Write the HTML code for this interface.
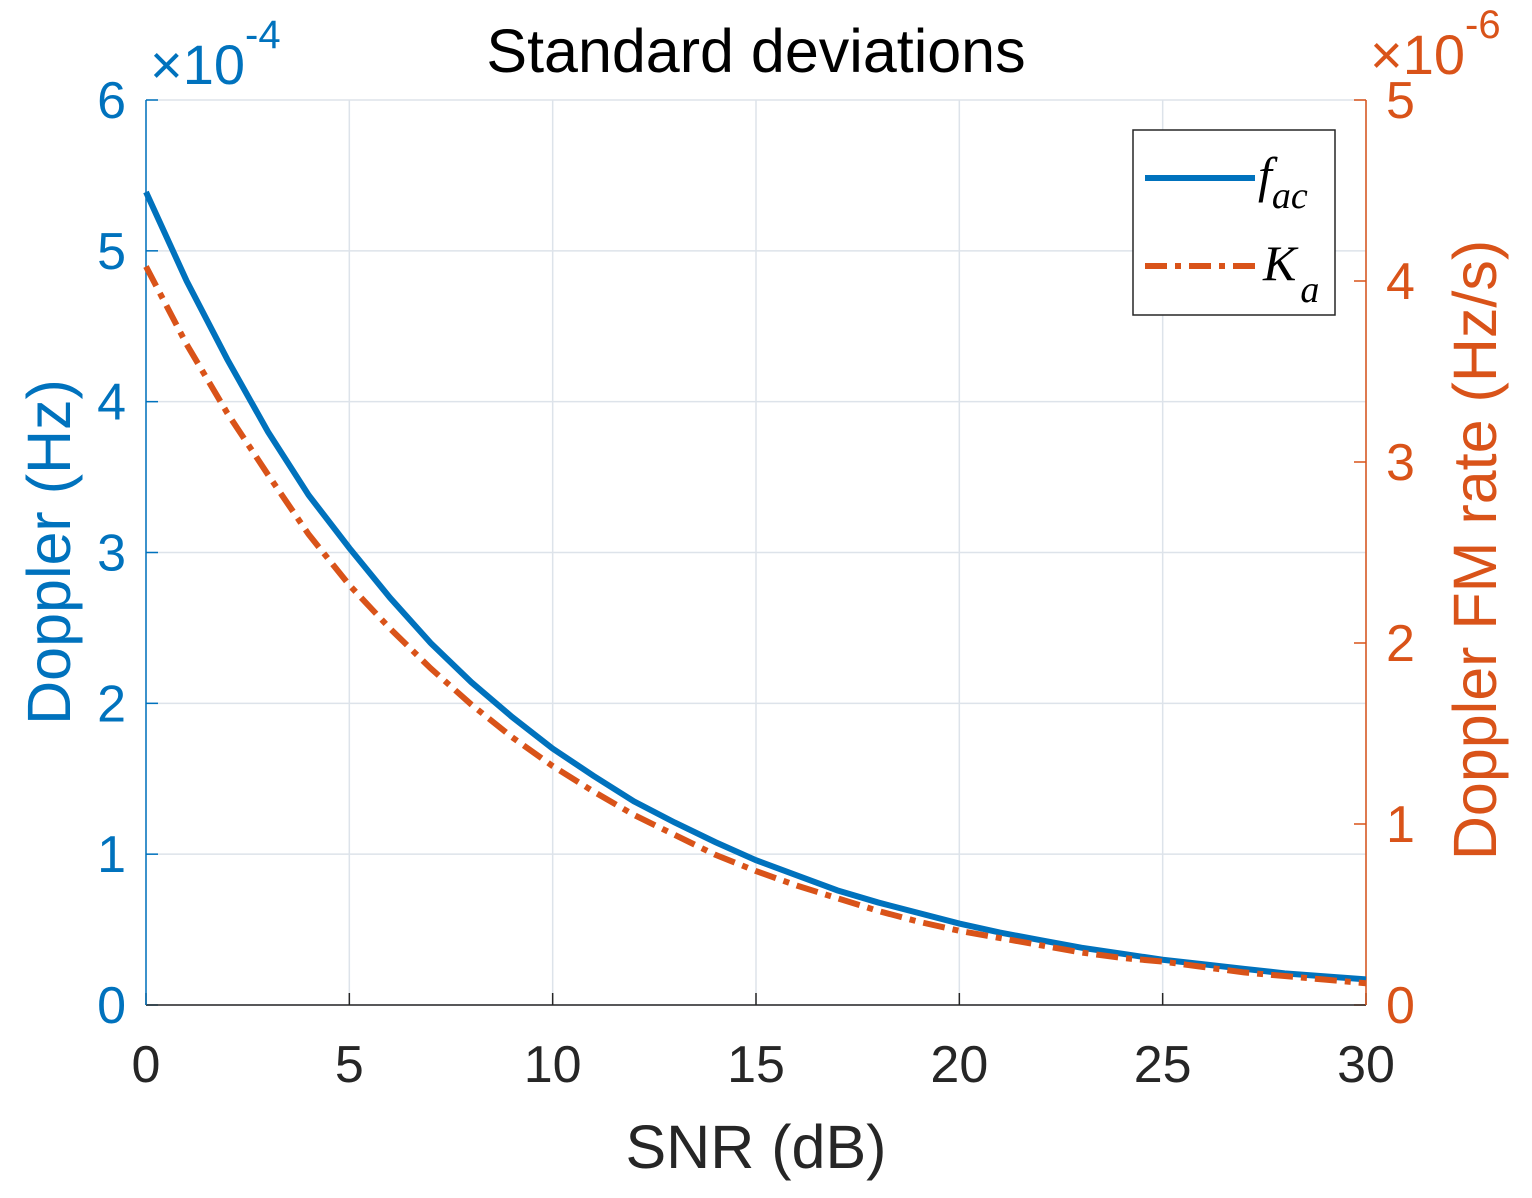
<!DOCTYPE html>
<html><head><meta charset="utf-8"><style>
body{margin:0;background:#fff;}
svg{display:block;font-family:"Liberation Sans",Arial,sans-serif;}
</style></head><body>
<svg id="chart" width="1532" height="1198" viewBox="0 0 1532 1198" xmlns="http://www.w3.org/2000/svg">
<rect width="1532" height="1198" fill="#fff"/>
<g id="grid"></g>
<g id="axes"></g>
<g id="series"></g>
<text x="756" y="72" font-size="61" text-anchor="middle" fill="#000">Standard deviations</text>
<text x="756" y="1168" font-size="61" text-anchor="middle" fill="#262626">SNR (dB)</text>
<text transform="translate(70,552) rotate(-90)" font-size="61" text-anchor="middle" fill="#0072BD">Doppler (Hz)</text>
<text transform="translate(1496,550) rotate(-90)" font-size="61" text-anchor="middle" fill="#D95319">Doppler FM rate (Hz/s)</text>
<text x="150" y="84" font-size="56" fill="#0072BD">×10<tspan dy="-36" font-size="40">-4</tspan></text>
<text x="1370" y="74" font-size="56" fill="#D95319">×10<tspan dy="-36" font-size="40">-6</tspan></text>
<g>
<rect x="1133" y="130" width="202" height="185" fill="#fff" stroke="#262626" stroke-width="1.5"/>
<line x1="1145" y1="178" x2="1255" y2="178" stroke="#0072BD" stroke-width="6"/>
<text x="1258" y="192" font-family="Liberation Serif,serif" font-style="italic" font-size="50">f<tspan dy="16" font-size="38">ac</tspan></text>
<line x1="1145" y1="266" x2="1255" y2="266" stroke="#D95319" stroke-width="6" stroke-dasharray="22,8,6,8"/>
<text x="1263" y="280" font-family="Liberation Serif,serif" font-style="italic" font-size="50">K<tspan dy="22" dx="4" font-size="38">a</tspan></text>
</g>
</svg>
<script>
const snr=[0,1,2,3,4,5,6,7,8,9,10,11,12,13,14,15,16,17,18,19,20,21,22,23,24,25,26,27,28,29,30];
const facStd=[5.39,4.8,4.28,3.8,3.38,3.03,2.7,2.4,2.14,1.91,1.70,1.52,1.35,1.21,1.08,0.96,0.86,0.76,0.68,0.61,0.54,0.48,0.43,0.38,0.34,0.30,0.27,0.24,0.21,0.19,0.17];
const kaStd=[4.08,3.65,3.27,2.93,2.6,2.32,2.08,1.86,1.66,1.48,1.32,1.18,1.05,0.94,0.83,0.74,0.66,0.59,0.52,0.46,0.41,0.37,0.33,0.29,0.26,0.24,0.21,0.18,0.16,0.14,0.12];
const xTicks=[0,5,10,15,20,25,30];
const leftTicks=[0,1,2,3,4,5,6];
const rightTicks=[0,1,2,3,4,5];
const NS="http://www.w3.org/2000/svg";
const X0=146,X1=1366,Y0=1005,Y1=100;
const xs=v=>X0+(v-0)/30*(X1-X0);
const yl=v=>Y0-v/6*(Y0-Y1);
const yr=v=>Y0-v/5*(Y0-Y1);
function mk(tag,attrs,parent){const e=document.createElementNS(NS,tag);for(const k in attrs)e.setAttribute(k,attrs[k]);document.getElementById(parent).appendChild(e);return e;}
xTicks.forEach(t=>{
 const g=mk('line',{x1:xs(t),x2:xs(t),y1:Y1,y2:Y0,stroke:'#dde3ea','stroke-width':1.5},'grid');
 
 
 const tk=mk('line',{x1:xs(t),x2:xs(t),y1:Y0,y2:Y0-12,stroke:'#262626','stroke-width':1.5},'axes');
 
 
 const l=mk('text',{x:xs(t),y:1082,'font-size':52,'text-anchor':'middle',fill:'#262626'},'axes');l.textContent=t;
 
 
});
leftTicks.forEach(t=>{
 const g=mk('line',{x1:X0,x2:X1,y1:yl(t),y2:yl(t),stroke:'#dde3ea','stroke-width':1.5},'grid');
 
 
 const tk=mk('line',{x1:X0,x2:X0+12,y1:yl(t),y2:yl(t),stroke:'#0072BD','stroke-width':1.5},'axes');
 
 
 const l=mk('text',{x:126,y:yl(t)+18,'font-size':52,'text-anchor':'end',fill:'#0072BD'},'axes');l.textContent=t;
 
 
});
rightTicks.forEach(t=>{
 const tk=mk('line',{x1:X1,x2:X1-12,y1:yr(t),y2:yr(t),stroke:'#D95319','stroke-width':1.5},'axes');
 
 
 const l=mk('text',{x:1386,y:yr(t)+18,'font-size':52,'text-anchor':'start',fill:'#D95319'},'axes');l.textContent=t;
 
 
});
const xa=mk('line',{x1:X0,x2:X1,y1:Y0,y2:Y0,stroke:'#262626','stroke-width':1.5},'axes');


const la=mk('line',{x1:X0,x2:X0,y1:Y1,y2:Y0,stroke:'#0072BD','stroke-width':1.5},'axes');


const ra=mk('line',{x1:X1,x2:X1,y1:Y1,y2:Y0,stroke:'#D95319','stroke-width':1.5},'axes');


const p1=mk('path',{d:snr.map((s,i)=>(i?'L':'M')+xs(s)+','+yl(facStd[i])).join(''),fill:'none',stroke:'#0072BD','stroke-width':6},'series');


const p2=mk('path',{d:snr.map((s,i)=>(i?'L':'M')+xs(s)+','+yr(kaStd[i])).join(''),fill:'none',stroke:'#D95319','stroke-width':6,'stroke-dasharray':'22,8,6,8'},'series');


</script>
</body></html>
